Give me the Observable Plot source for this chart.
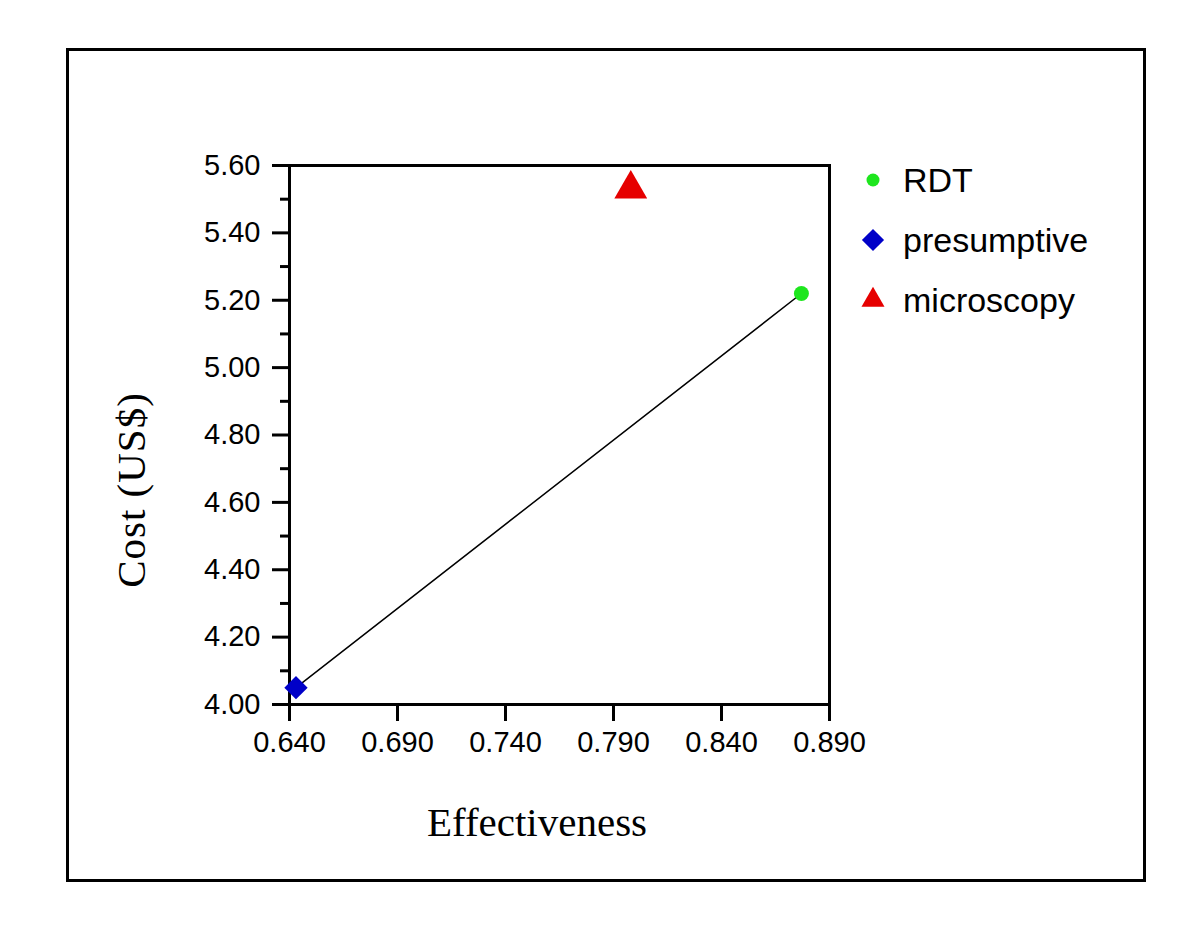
<!DOCTYPE html>
<html>
<head>
<meta charset="utf-8">
<script src="https://cdn.jsdelivr.net/npm/d3@7"></script>
<script src="https://cdn.jsdelivr.net/npm/@observablehq/plot@0.6"></script>
<style>
  html, body { margin: 0; padding: 0; background: #fff; }
  #wrap { position: relative; width: 1200px; height: 929px; overflow: hidden; }
  #box { position: absolute; left: 66px; top: 48px; width: 1074px; height: 828px; border: 3px solid #000; }
  .title { position: absolute; font-family: "Liberation Serif", "Times New Roman", serif; color: #000; white-space: nowrap; }
  #xlab { left: 537px; top: 822px; transform: translate(-50%, -50%); font-size: 41px; }
  #ylab { left: 131px; top: 490px; transform: translate(-50%, -50%) rotate(-90deg); font-size: 41px; letter-spacing: 1px; }
  #legend { position: absolute; left: 855px; top: 160px; font-family: "Liberation Sans", Arial, sans-serif; font-size: 34px; }
  .item { position: absolute; left: 0; height: 40px; display: flex; align-items: center; white-space: nowrap; }
  .item svg { width: 36px; height: 40px; margin-right: 12px; }
  #plot { position: absolute; left: 0; top: 0; }
</style>
</head>
<body>
<div id="wrap">
  <div id="box"></div>
  <div id="plot"></div>
  <div class="title" id="xlab">Effectiveness</div>
  <div class="title" id="ylab">Cost (US$)</div>
  <div id="legend"></div>
</div>
<script>
// ---- data ----
const categories = ["RDT", "presumptive", "microscopy"];
const effectiveness = [0.877, 0.643, 0.798];
const cost = [5.22, 4.05, 5.53];
const colors = ["#1ee61e", "#0000c8", "#e60000"];
const symbols = ["circle", "diamond2", "triangle"];
const radii = [7.5, 10.5, 12.2];
const xTicks = [0.640, 0.690, 0.740, 0.790, 0.840, 0.890];
const yTicks = [4.00, 4.20, 4.40, 4.60, 4.80, 5.00, 5.20, 5.40, 5.60];
const yMinorTicks = [4.10, 4.30, 4.50, 4.70, 4.90, 5.10, 5.30, 5.50];
const linePath = ["presumptive", "RDT"];

const rows = categories.map((c, i) => ({category: c, x: effectiveness[i], y: cost[i]}));
const lineRows = linePath.map(c => rows.find(r => r.category === c));

const tickFont = {fontFamily: "'Liberation Sans', Arial, sans-serif", fontSize: "29px", color: "#000"};

const marks = [
  Plot.frame({stroke: "#000", strokeWidth: 3}),
  Plot.axisY({ticks: yMinorTicks, tickSize: 9, strokeWidth: 3, text: null, label: null}),
  Plot.axisY({ticks: yTicks, tickSize: 17, tickPadding: 12, strokeWidth: 3, tickFormat: d3.format(".2f"), label: null}),
  Plot.axisX({ticks: xTicks, tickSize: 17, tickPadding: 10, strokeWidth: 3, tickFormat: d3.format(".3f"), label: null}),
  Plot.line(lineRows, {x: "x", y: "y", stroke: "#000", strokeWidth: 1.5})
];
categories.forEach((c, i) => {
  marks.push(Plot.dot(rows.filter(r => r.category === c), {
    x: "x", y: "y", symbol: symbols[i], r: radii[i], fill: colors[i], stroke: "none"
  }));
});

const chart = Plot.plot({
  width: 1200,
  height: 929,
  marginLeft: 289,
  marginRight: 371,
  marginTop: 165,
  marginBottom: 225,
  style: {...tickFont, background: "transparent", overflow: "visible"},
  x: {domain: [0.640, 0.890]},
  y: {domain: [4.00, 5.60]},
  marks
});
document.getElementById("plot").appendChild(chart);

// ---- legend ----
const legend = d3.select("#legend");
const legendSizes = [6.5, 10, 11];
const legendTops = [0, 60, 120];
const symbolTypes = {circle: d3.symbolCircle, diamond2: d3.symbolDiamond2, triangle: d3.symbolTriangle2};
categories.forEach((c, i) => {
  const item = legend.append("div").attr("class", "item").style("top", legendTops[i] + "px");
  const svg = item.append("svg").attr("viewBox", "-18 -20 36 40");
  const size = Math.PI * legendSizes[i] * legendSizes[i];
  svg.append("path").attr("d", d3.symbol(symbolTypes[symbols[i]], size)()).attr("fill", colors[i]);
  item.append("span").text(c);
});
</script>
</body>
</html>
